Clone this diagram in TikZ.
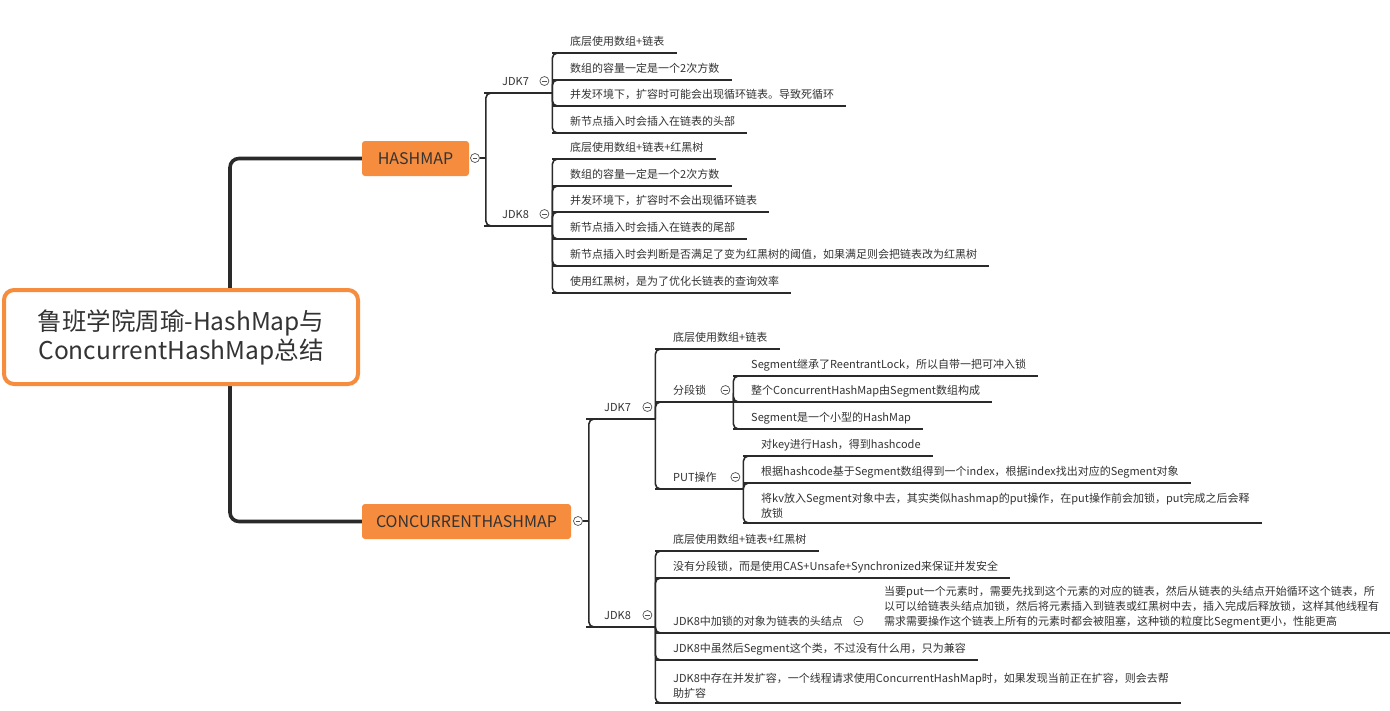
\documentclass[tikz,border=0pt]{standalone}
\usepackage{fontspec}
\setmainfont{Noto Sans CJK SC}
\usetikzlibrary{backgrounds}

\definecolor{ink}{HTML}{333333}
\definecolor{wire}{HTML}{2A2A2A}
\definecolor{accent}{HTML}{F68C3E}

\newcommand\leaffont{\fontsize{11}{15}\selectfont}
\newcommand\rootfont{\fontsize{24.5}{29}\selectfont}
\newcommand\tagfont{\fontsize{16}{19}\selectfont}

\tikzset{
    wire/.style={draw=wire, line width=1.6pt, rounded corners=5pt},
    spine/.style={draw=wire, line width=3.6pt, rounded corners=9pt},
    uline/.style={draw=wire, line width=1.5pt},
    root/.style={draw=accent, line width=4pt, fill=white, rounded corners=10pt,
        minimum width=354pt, minimum height=94pt, align=center, font=\rootfont, text=ink},
    tag/.style={fill=accent, rounded corners=3pt, minimum height=35pt, font=\tagfont, text=ink},
    leaf/.style={anchor=south west, inner xsep=0pt, inner ysep=4.5pt, text depth=3pt,
        font=\leaffont, text=ink, align=left},
    multi/.style={leaf, text depth=},
    sub/.style={leaf, text width=#1},
    fold/.style={circle, draw=ink!85, line width=0.7pt, fill=white, minimum size=9pt, inner sep=0pt,
        path picture={\draw[ink!85, line width=0.7pt]
            ([xshift=-2.3pt]path picture bounding box.center) -- ([xshift=2.3pt]path picture bounding box.center);}},
}

\begin{document}
\begin{tikzpicture}[x=1pt, y=-1pt]
    \useasboundingbox (0,0) rectangle (1390,710);

    % root and the two main topics
    \node[root] (root) at (181,337) {鲁班学院周瑜-HashMap与\\ConcurrentHashMap总结};
    \node[tag, minimum width=107pt] (hashmap) at (415.5,158.5) {HASHMAP};
    \node[tag, minimum width=209pt] (chm) at (466.5,521.5) {CONCURRENTHASHMAP};
    \node[fold] (hmk) at (475,158) {};
    \node[fold] (cmk) at (578,521) {};

    \begin{scope}[on background layer]
        \fill[white] (0,0) rectangle (1390,710);
        \draw[spine] ([xshift=49pt]root.center) |- (hashmap.west);
        \draw[spine] ([xshift=49pt]root.center) |- (chm.west);
    \end{scope}

    % HashMap
    \node[sub=50pt] (hj7) at (502,93) {JDK7};
    \node[sub=50pt] (hj8) at (502,226) {JDK8};
    \foreach \y/\n/\t in {53/h71/{底层使用数组+链表},
                          80/h72/{数组的容量一定是一个2次方数},
                          106/h73/{并发环境下，扩容时可能会出现循环链表。导致死循环},
                          133/h74/{新节点插入时会插入在链表的头部}}
        \node[leaf] (\n) at (570,\y) {\t};
    \foreach \y/\n/\t in {159/h81/{底层使用数组+链表+红黑树},
                          186/h82/{数组的容量一定是一个2次方数},
                          212/h83/{并发环境下，扩容时不会出现循环链表},
                          239/h84/{新节点插入时会插入在链表的尾部},
                          266/h85/{新节点插入时会判断是否满足了变为红黑树的阈值，如果满足则会把链表改为红黑树},
                          293/h86/{使用红黑树，是为了优化长链表的查询效率}}
        \node[leaf] (\n) at (570,\y) {\t};

    % ConcurrentHashMap, JDK7
    \node[sub=51pt] (cj7) at (604,419) {JDK7};
    \node[leaf] (c71) at (673,349) {底层使用数组+链表};
    \node[sub=60pt] (cseg) at (673,402) {分段锁};
    \node[sub=70pt] (cput) at (673,489) {PUT操作};
    \foreach \y/\n/\t in {376/s1/{Segment继承了ReentrantLock，所以自带一把可冲入锁},
                          402/s2/{整个ConcurrentHashMap由Segment数组构成},
                          429/s3/{Segment是一个小型的HashMap}}
        \node[leaf] (\n) at (751,\y) {\t};
    \node[leaf] (p1) at (761,456) {对key进行Hash，得到hashcode};
    \node[leaf] (p2) at (761,483) {根据hashcode基于Segment数组得到一个index，根据index找出对应的Segment对象};
    \node[multi] (p3) at (761,523) {将kv放入Segment对象中去，其实类似hashmap的put操作，在put操作前会加锁，put完成之后会释\\放锁};

    % ConcurrentHashMap, JDK8
    \node[sub=51pt] (cj8) at (604,627) {JDK8};
    \node[leaf] (d1) at (673,551) {底层使用数组+链表+红黑树};
    \node[leaf] (d2) at (673,578) {没有分段锁，而是使用CAS+Unsafe+Synchronized来保证并发安全};
    \node[sub=193pt] (dlock) at (673,633) {JDK8中加锁的对象为链表的头结点};
    \node[multi] (dl1) at (884,633) {当要put一个元素时，需要先找到这个元素的对应的链表，然后从链表的头结点开始循环这个链表，所\\以可以给链表头结点加锁，然后将元素插入到链表或红黑树中去，插入完成后释放锁，这样其他线程有\\需求需要操作这个链表上所有的元素时都会被阻塞，这种锁的粒度比Segment更小，性能更高};
    \node[leaf] (d3) at (673,660) {JDK8中虽然后Segment这个类，不过没有什么用，只为兼容};
    \node[multi] (d4) at (673,703) {JDK8中存在并发扩容，一个线程请求使用ConcurrentHashMap时，如果发现当前正在扩容，则会去帮\\助扩容};

    % fold marks
    \foreach \n in {hj7,hj8,cj7,cseg,cput,cj8,dlock}
        \node[fold] (\n-k) at ([xshift=-8pt,yshift=12pt]\n.south east) {};

    % underlines
    \foreach \n in {hj7,hj8,cj7,cseg,cput,cj8,dlock}
        \draw[uline] ([xshift=-18pt]\n.south west) -- (\n.south east);
    \foreach \n in {h71,h72,h73,h74,h81,h82,h83,h84,h85,h86,c71,s1,s2,s3,p1,p2,p3,d1,d2,dl1,d3,d4}
        \draw[uline] ([xshift=-18pt]\n.south west) -- ([xshift=12pt]\n.south east);

    % connectors
    \draw[wire] (hmk.east) -- ++(6pt,0) coordinate (hfork);
    \draw[wire] (hfork) |- (hj7.south west);
    \draw[wire] (hfork) |- (hj8.south west);
    \draw[wire] (cmk.east) -- ++(6pt,0) coordinate (cfork);
    \draw[wire] (cfork) |- (cj7.south west);
    \draw[wire] (cfork) |- (cj8.south west);
    \foreach \n in {h71,h72,h73,h74}
        \draw[wire] (hj7.south east) |- ([xshift=-12pt]\n.south west);
    \foreach \n in {h81,h82,h83,h84,h85,h86}
        \draw[wire] (hj8.south east) |- ([xshift=-12pt]\n.south west);
    \foreach \n in {c71,cseg,cput}
        \draw[wire] (cj7.south east) |- ([xshift=-12pt]\n.south west);
    \foreach \n in {s1,s2,s3}
        \draw[wire] (cseg.south east) |- ([xshift=-12pt]\n.south west);
    \foreach \n in {p1,p2,p3}
        \draw[wire] (cput.south east) |- ([xshift=-12pt]\n.south west);
    \foreach \n in {d1,d2,dlock,d3,d4}
        \draw[wire] (cj8.south east) |- ([xshift=-12pt]\n.south west);
    \draw[wire] (dlock.south east) -- ([xshift=-12pt]dl1.south west);
\end{tikzpicture}
\end{document}
